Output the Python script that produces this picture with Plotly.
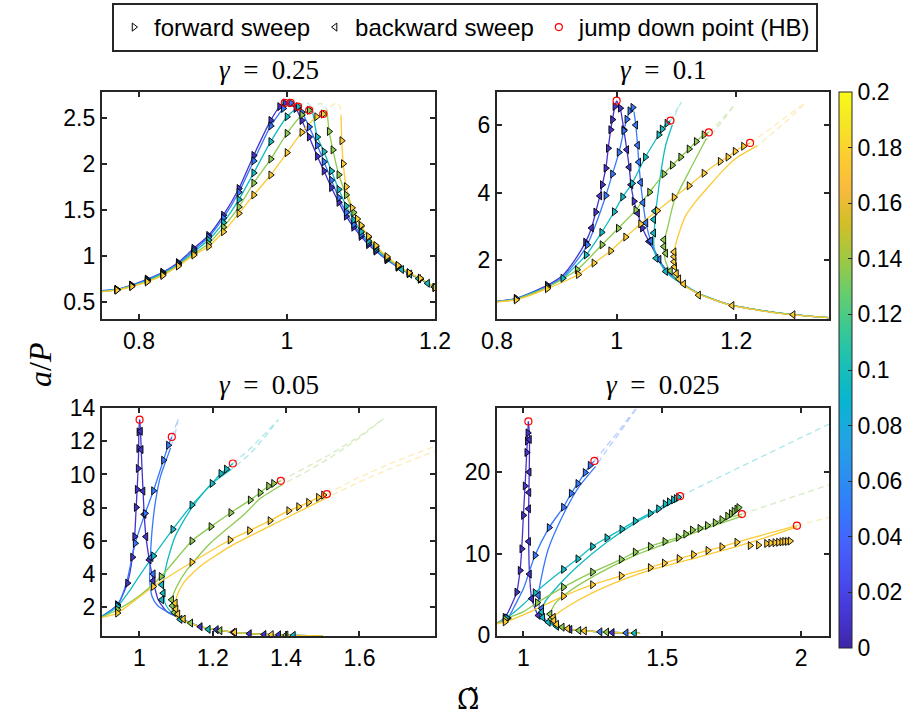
import plotly.graph_objects as go
from plotly.colors import sample_colorscale

# ---------------- colour map (parula) ----------------
PARULA = [
    [0.000, "rgb(62,38,168)"], [0.0635, "rgb(69,55,213)"], [0.127, "rgb(72,77,240)"],
    [0.190, "rgb(69,99,253)"], [0.254, "rgb(50,124,252)"], [0.317, "rgb(43,145,239)"],
    [0.381, "rgb(32,165,227)"], [0.444, "rgb(8,181,208)"], [0.508, "rgb(25,191,182)"],
    [0.571, "rgb(55,200,151)"], [0.635, "rgb(100,205,111)"], [0.698, "rgb(157,201,67)"],
    [0.762, "rgb(209,191,39)"], [0.825, "rgb(248,186,61)"], [0.889, "rgb(252,207,48)"],
    [0.952, "rgb(245,233,36)"], [1.000, "rgb(249,251,21)"],
]
CURVE_VALUES = [0.01, 0.048, 0.096, 0.136, 0.175]
CBAR_TICKS = [0, 0.02, 0.04, 0.06, 0.08, 0.1, 0.12, 0.14, 0.16, 0.18, 0.2]
CBAR_LABELS = ["0", "0.02", "0.04", "0.06", "0.08", "0.1", "0.12", "0.14", "0.16", "0.18", "0.2"]

TITLES = ["<i>γ</i>  =  0.25", "<i>γ</i>  =  0.1", "<i>γ</i>  =  0.05", "<i>γ</i>  =  0.025"]
LEGEND_NAMES = ["forward sweep", "backward sweep", "jump down point (HB)"]
Y_LABEL = "<i>a</i>/<i>P</i>"
X_LABEL = "Ω\u0303"

P1_XTICKS = [0.8, 1, 1.2]; P1_XLABELS = ["0.8", "1", "1.2"]
P1_YTICKS = [0.5, 1, 1.5, 2, 2.5]; P1_YLABELS = ["0.5", "1", "1.5", "2", "2.5"]
P2_XTICKS = [0.8, 1, 1.2]; P2_XLABELS = ["0.8", "1", "1.2"]
P2_YTICKS = [2, 4, 6]; P2_YLABELS = ["2", "4", "6"]
P3_XTICKS = [1, 1.2, 1.4, 1.6]; P3_XLABELS = ["1", "1.2", "1.4", "1.6"]
P3_YTICKS = [2, 4, 6, 8, 10, 12, 14]; P3_YLABELS = ["2", "4", "6", "8", "10", "12", "14"]
P4_XTICKS = [1, 1.5, 2]; P4_XLABELS = ["1", "1.5", "2"]
P4_YTICKS = [0, 10, 20]; P4_YLABELS = ["0", "10", "20"]

# ---------------- panel 1 : gamma = 0.25 ----------------
P1_UP_X = [
    [0.75, 0.77, 0.79, 0.811, 0.832, 0.853, 0.874, 0.894, 0.914, 0.935, 0.955, 0.978, 0.99, 0.997],
    [0.75, 0.77, 0.79, 0.811, 0.832, 0.853, 0.874, 0.894, 0.914, 0.935, 0.955, 0.978, 0.995, 1.005],
    [0.75, 0.77, 0.79, 0.811, 0.832, 0.853, 0.874, 0.894, 0.914, 0.935, 0.955, 0.978, 1.0, 1.015],
    [0.75, 0.77, 0.79, 0.811, 0.832, 0.853, 0.874, 0.894, 0.914, 0.935, 0.955, 0.978, 1.0, 1.02, 1.03],
    [0.75, 0.77, 0.79, 0.811, 0.832, 0.853, 0.874, 0.894, 0.914, 0.935, 0.955, 0.978, 1.0, 1.02, 1.04, 1.049]]
P1_UP_Y = [
    [0.62, 0.634, 0.68, 0.745, 0.82, 0.925, 1.08, 1.22, 1.44, 1.73, 2.09, 2.47, 2.62, 2.66],
    [0.62, 0.633, 0.678, 0.74, 0.815, 0.915, 1.06, 1.2, 1.41, 1.69, 2.03, 2.41, 2.6, 2.66],
    [0.615, 0.63, 0.672, 0.73, 0.805, 0.905, 1.04, 1.17, 1.36, 1.61, 1.9, 2.24, 2.51, 2.62],
    [0.61, 0.628, 0.668, 0.722, 0.795, 0.895, 1.02, 1.13, 1.31, 1.53, 1.79, 2.05, 2.33, 2.53, 2.58],
    [0.61, 0.625, 0.665, 0.715, 0.785, 0.888, 1.007, 1.1, 1.26, 1.46, 1.66, 1.877, 2.12, 2.34, 2.51, 2.54]]
P1_DASH_X = [[0.997, 1.0, 1.004], [1.005, 1.009, 1.013], [1.015, 1.022, 1.029, 1.034],
             [1.03, 1.038, 1.045, 1.051, 1.054], [1.049, 1.056, 1.063, 1.068, 1.072, 1.073]]
P1_DASH_Y = [[2.66, 2.665, 2.65], [2.66, 2.665, 2.64], [2.62, 2.655, 2.655, 2.6],
             [2.58, 2.63, 2.655, 2.64, 2.58], [2.54, 2.6, 2.645, 2.66, 2.62, 2.52]]
P1_LOW_X = [
    [1.004, 1.012, 1.02, 1.03, 1.041, 1.05, 1.06, 1.07, 1.08, 1.09, 1.1, 1.11, 1.12, 1.135, 1.15, 1.165, 1.18, 1.2],
    [1.013, 1.02, 1.03, 1.041, 1.05, 1.06, 1.07, 1.08, 1.09, 1.1, 1.11, 1.12, 1.135, 1.15, 1.165, 1.18, 1.2],
    [1.034, 1.041, 1.05, 1.06, 1.07, 1.08, 1.09, 1.1, 1.11, 1.12, 1.135, 1.15, 1.165, 1.18, 1.2],
    [1.054, 1.057, 1.062, 1.07, 1.08, 1.09, 1.1, 1.11, 1.12, 1.135, 1.15, 1.165, 1.18, 1.2],
    [1.073, 1.074, 1.076, 1.08, 1.088, 1.095, 1.1, 1.11, 1.12, 1.135, 1.15, 1.165, 1.18, 1.2]]
P1_LOW_Y = [
    [2.65, 2.6, 2.47, 2.29, 2.08, 1.92, 1.74, 1.58, 1.43, 1.31, 1.21, 1.12, 1.05, 0.955, 0.875, 0.805, 0.745, 0.655],
    [2.64, 2.56, 2.4, 2.2, 2.02, 1.82, 1.63, 1.47, 1.34, 1.23, 1.14, 1.06, 0.96, 0.88, 0.808, 0.748, 0.655],
    [2.6, 2.29, 2.13, 1.92, 1.72, 1.54, 1.39, 1.26, 1.16, 1.08, 0.97, 0.885, 0.81, 0.75, 0.655],
    [2.58, 2.35, 2.15, 1.88, 1.66, 1.47, 1.32, 1.2, 1.1, 0.98, 0.89, 0.812, 0.752, 0.655],
    [2.52, 2.25, 2.0, 1.75, 1.52, 1.4, 1.33, 1.21, 1.11, 0.99, 0.895, 0.815, 0.755, 0.655]]
P1_FWD_X = [u[1:] + l[1:] for u, l in zip(P1_UP_X, P1_LOW_X)]
P1_FWD_Y = [u[1:] + l[1:] for u, l in zip(P1_UP_Y, P1_LOW_Y)]
P1_BWD_X = [[], [], [1.155, 1.166, 1.178, 1.19, 1.199], [], []]
P1_BWD_Y = [[], [], [0.85, 0.8, 0.75, 0.7, 0.66], [], []]
P1_HB_X = [0.997, 1.005, 1.015, 1.03, 1.049]
P1_HB_Y = [2.66, 2.66, 2.62, 2.58, 2.54]

# ---------------- panel 2 : gamma = 0.1 ----------------
P2_UP_X = [
    [0.8, 0.832, 0.884, 0.91, 0.93, 0.948, 0.958, 0.965, 0.972, 0.976, 0.982, 0.986, 0.99, 0.993, 0.997, 1.0],
    [0.8, 0.832, 0.884, 0.91, 0.93, 0.951, 0.965, 0.982, 0.993, 1.004, 1.012, 1.017, 1.022, 1.027],
    [0.8, 0.832, 0.884, 0.91, 0.949, 0.975, 0.996, 1.01, 1.026, 1.048, 1.0705, 1.076, 1.084, 1.09],
    [0.8, 0.832, 0.884, 0.934, 0.9755, 1.0027, 1.032, 1.055, 1.079, 1.093, 1.107, 1.121, 1.133, 1.146, 1.154],
    [0.8, 0.832, 0.884, 0.936, 0.962, 0.99, 1.015, 1.04, 1.068, 1.096, 1.121, 1.146, 1.173, 1.186, 1.198, 1.212, 1.223]]
P2_UP_Y = [
    [0.77, 0.86, 1.25, 1.55, 2.0, 2.53, 2.95, 3.42, 3.9, 4.23, 4.72, 5.31, 5.86, 6.16, 6.55, 6.72],
    [0.77, 0.855, 1.22, 1.5, 1.9, 2.45, 3.05, 3.91, 4.55, 5.19, 5.83, 6.17, 6.42, 6.52],
    [0.77, 0.845, 1.2, 1.46, 2.15, 2.82, 3.43, 3.87, 4.27, 5.05, 5.71, 5.88, 6.05, 6.13],
    [0.765, 0.835, 1.19, 1.71, 2.45, 2.94, 3.48, 4.01, 4.55, 4.81, 5.05, 5.29, 5.51, 5.71, 5.78],
    [0.76, 0.82, 1.15, 1.57, 1.91, 2.27, 2.68, 3.07, 3.46, 3.86, 4.2, 4.57, 4.92, 5.05, 5.22, 5.37, 5.47]]
P2_DASH_X = [[1.0], [1.027, 1.029], [1.09, 1.1, 1.108, 1.1, 1.093],
             [1.154, 1.17, 1.185, 1.197, 1.185, 1.165, 1.15],
             [1.223, 1.25, 1.28, 1.315, 1.29, 1.26, 1.235]]
P2_DASH_Y = [[6.72], [6.52, 6.5], [6.13, 6.42, 6.68, 6.4, 6.0],
             [5.78, 6.05, 6.35, 6.6, 6.3, 5.85, 5.55],
             [5.47, 5.8, 6.2, 6.65, 6.2, 5.75, 5.38]]
P2_LOW_X = [
    [1.0, 1.006, 1.012, 1.017, 1.021, 1.024, 1.029, 1.035, 1.043, 1.054, 1.065, 1.076, 1.09, 1.11, 1.14, 1.19, 1.24, 1.29, 1.355],
    [1.029, 1.032, 1.035, 1.037, 1.04, 1.044, 1.049, 1.057, 1.071, 1.082, 1.1, 1.14, 1.19, 1.24, 1.29, 1.355],
    [1.093, 1.082, 1.071, 1.064, 1.062, 1.064, 1.071, 1.082, 1.1, 1.14, 1.19, 1.24, 1.29, 1.355],
    [1.15, 1.121, 1.096, 1.085, 1.08, 1.079, 1.082, 1.09, 1.1, 1.115, 1.14, 1.19, 1.24, 1.29, 1.355],
    [1.235, 1.2, 1.176, 1.155, 1.132, 1.115, 1.107, 1.1, 1.096, 1.096, 1.1, 1.104, 1.115, 1.14, 1.19, 1.24, 1.29, 1.355]]
P2_LOW_Y = [
    [6.72, 6.5, 5.86, 5.27, 4.75, 4.23, 3.74, 3.39, 2.95, 2.55, 2.2, 1.86, 1.58, 1.3, 0.98, 0.67, 0.51, 0.39, 0.29],
    [6.4, 6.0, 5.4, 4.9, 4.3, 3.7, 3.1, 2.57, 2.02, 1.68, 1.4, 0.98, 0.67, 0.51, 0.39, 0.29],
    [6.0, 5.4, 4.23, 3.14, 2.5, 2.2, 1.96, 1.66, 1.4, 0.98, 0.67, 0.51, 0.39, 0.29],
    [5.6, 4.62, 3.73, 2.94, 2.6, 2.3, 1.95, 1.65, 1.45, 1.22, 0.98, 0.67, 0.51, 0.39, 0.29],
    [5.38, 5.02, 4.62, 4.2, 3.73, 3.3, 2.94, 2.55, 2.24, 2.0, 1.7, 1.44, 1.22, 0.97, 0.66, 0.5, 0.38, 0.29]]
P2_FWD_X = [
    [0.832, 0.884, 0.948, 0.965, 0.976, 0.982, 0.986, 0.99, 0.993, 0.997, 1.006, 1.012, 1.029, 1.043],
    [0.832, 0.884, 0.951, 0.982, 0.993, 1.004, 1.012, 1.017, 1.022, 1.027],
    [0.91, 0.949, 0.975, 0.996, 1.01, 1.026, 1.048, 1.0705, 1.076, 1.084],
    [0.884, 0.934, 0.9755, 1.0027, 1.032, 1.055, 1.079, 1.093, 1.107, 1.121, 1.133, 1.146],
    [0.832, 0.884, 0.936, 0.962, 0.99, 1.015, 1.04, 1.068, 1.096, 1.121, 1.146, 1.173, 1.186, 1.198, 1.212]]
P2_FWD_Y = [
    [0.86, 1.25, 2.53, 3.42, 4.23, 4.72, 5.31, 5.86, 6.16, 6.55, 6.5, 5.86, 3.74, 2.95],
    [0.855, 1.22, 2.45, 3.91, 4.55, 5.19, 5.83, 6.17, 6.42, 6.52],
    [1.46, 2.15, 2.82, 3.43, 3.87, 4.27, 5.05, 5.71, 5.88, 6.05],
    [1.19, 1.71, 2.45, 2.94, 3.48, 4.01, 4.55, 4.81, 5.05, 5.29, 5.51, 5.71],
    [0.82, 1.15, 1.57, 1.91, 2.27, 2.68, 3.07, 3.46, 3.86, 4.2, 4.57, 4.92, 5.05, 5.22, 5.37]]
P2_BWD_X = [
    [1.017, 1.021, 1.024, 1.035, 1.054, 0.972, 0.958],
    [1.032, 1.035, 1.037, 1.04, 1.044, 1.049, 1.057, 1.071],
    [1.082, 1.066, 1.062, 1.062, 1.064],
    [1.09, 1.082, 1.079, 1.079],
    [1.295, 1.193, 1.137, 1.112, 1.104, 1.1, 1.097, 1.096, 1.096, 1.096]]
P2_BWD_Y = [
    [5.27, 4.75, 4.23, 3.39, 2.55, 3.9, 2.95],
    [6.0, 5.4, 4.9, 4.3, 3.7, 3.1, 2.57, 2.02],
    [1.66, 2.05, 2.8, 3.2, 3.45],
    [1.68, 2.2, 2.4, 2.6],
    [0.38, 0.65, 0.96, 1.29, 1.44, 1.6, 1.8, 1.95, 2.1, 2.24]]
P2_HB_X = [1.0, 1.09, 1.154, 1.223]
P2_HB_Y = [6.72, 6.13, 5.78, 5.47]

# ---------------- panel 3 : gamma = 0.05 ----------------
P3_UP_X = [
    [0.898, 0.9402, 0.9675, 0.9811, 0.987, 0.9912, 0.9938, 0.9965, 0.998, 0.9985, 1.0005],
    [0.898, 0.9402, 0.965, 0.9883, 1.0155, 1.0383, 1.0655, 1.079, 1.0883],
    [0.898, 0.9402, 0.97, 1.0, 1.0383, 1.091, 1.143, 1.198, 1.222, 1.237, 1.2547],
    [0.898, 0.9402, 1.0, 1.059, 1.143, 1.195, 1.249, 1.302, 1.329, 1.352, 1.3656, 1.3856],
    [0.898, 0.9402, 1.038, 1.143, 1.247, 1.3, 1.356, 1.407, 1.434, 1.461, 1.488, 1.502, 1.511]]
P3_UP_Y = [
    [1.46, 2.16, 3.46, 5.02, 6.26, 8.02, 9.1, 10.36, 11.56, 12.56, 13.3],
    [1.45, 2.13, 3.5, 5.86, 7.66, 9.02, 10.86, 11.76, 12.26],
    [1.43, 2.06, 2.9, 3.9, 5.1, 6.7, 8.16, 9.46, 10.06, 10.32, 10.66],
    [1.42, 1.86, 2.7, 3.86, 6.0, 6.86, 7.7, 8.46, 8.9, 9.3, 9.46, 9.62],
    [1.4, 1.66, 3.26, 4.72, 6.06, 6.62, 7.22, 7.82, 8.06, 8.32, 8.62, 8.76, 8.82]]
P3_DASH_X = [
    [1.0005],
    [1.0883, 1.097, 1.106, 1.098, 1.085],
    [1.2547, 1.3, 1.34, 1.379, 1.34, 1.3, 1.25],
    [1.3856, 1.45, 1.52, 1.6, 1.6654, 1.6, 1.52, 1.45, 1.39],
    [1.511, 1.6, 1.7, 1.8, 1.9, 1.8, 1.7, 1.6, 1.52]]
P3_DASH_Y = [
    [13.3],
    [12.26, 12.85, 13.36, 12.5, 11.6],
    [10.66, 11.5, 12.4, 13.3, 12.2, 11.2, 10.3],
    [9.62, 10.4, 11.2, 12.3, 13.36, 12.2, 11.0, 10.1, 9.4],
    [8.82, 9.85, 10.8, 11.66, 12.5, 11.35, 10.5, 9.55, 8.7]]
P3_LOW_X = [
    [1.0005, 1.003, 1.005, 1.007, 1.01, 1.013, 1.0178, 1.027, 1.0376, 1.0512, 1.074, 1.1, 1.166, 1.238, 1.302, 1.356, 1.42, 1.5],
    [1.085, 1.0752, 1.0571, 1.043, 1.0346, 1.03, 1.028, 1.0346, 1.05, 1.074, 1.1, 1.166, 1.238, 1.302, 1.356, 1.42, 1.5],
    [1.25, 1.193, 1.1385, 1.0974, 1.0747, 1.0656, 1.07, 1.085, 1.1, 1.166, 1.238, 1.302, 1.356, 1.42, 1.5],
    [1.39, 1.329, 1.284, 1.193, 1.1295, 1.102, 1.0883, 1.09, 1.1, 1.166, 1.238, 1.302, 1.356, 1.42, 1.5],
    [1.52, 1.3835, 1.247, 1.165, 1.12, 1.102, 1.098, 1.1, 1.166, 1.238, 1.302, 1.356, 1.42, 1.5]]
P3_LOW_Y = [
    [13.3, 12.6, 11.5, 10.4, 9.0, 7.6, 6.26, 4.86, 3.6, 2.46, 1.76, 1.46, 0.84, 0.56, 0.42, 0.36, 0.32, 0.29],
    [11.6, 11.0, 9.86, 8.26, 6.66, 5.06, 3.66, 2.66, 2.1, 1.76, 1.46, 0.84, 0.56, 0.42, 0.36, 0.32, 0.29],
    [10.3, 9.36, 7.86, 6.26, 4.66, 3.36, 2.26, 1.75, 1.46, 0.84, 0.56, 0.42, 0.36, 0.32, 0.29],
    [9.4, 8.55, 7.56, 5.86, 4.26, 3.26, 2.46, 1.8, 1.46, 0.84, 0.56, 0.42, 0.36, 0.32, 0.29],
    [8.7, 7.2, 5.66, 4.46, 3.46, 2.66, 2.26, 1.46, 0.84, 0.56, 0.42, 0.36, 0.32, 0.29]]
P3_FWD_X = [
    [0.9402, 0.9675, 0.9811, 0.987, 0.9912, 0.9938, 0.9965, 0.998, 0.9985],
    [0.9402, 0.9883, 1.0155, 1.0383, 1.0655, 1.079],
    [0.9402, 1.0383, 1.091, 1.143, 1.198, 1.222, 1.237],
    [0.9402, 1.059, 1.143, 1.195, 1.249, 1.302, 1.329, 1.352, 1.3656],
    [0.9402, 1.038, 1.143, 1.247, 1.3, 1.356, 1.407, 1.434, 1.461, 1.488, 1.502]]
P3_FWD_Y = [
    [2.16, 3.46, 5.02, 6.26, 8.02, 9.1, 10.36, 11.56, 12.56],
    [2.13, 5.86, 7.66, 9.02, 10.86, 11.76],
    [2.06, 5.1, 6.7, 8.16, 9.46, 10.06, 10.32],
    [1.86, 3.86, 6.0, 6.86, 7.7, 8.46, 8.9, 9.3, 9.46],
    [1.66, 3.26, 4.72, 6.06, 6.62, 7.22, 7.82, 8.06, 8.32, 8.62, 8.76]]
P3_BWD_X = [
    [1.003, 1.005, 1.01, 1.013, 1.0178, 1.027, 1.0376, 1.166, 1.21, 1.256, 1.3, 1.34, 1.38],
    [1.038, 1.032],
    [1.061, 1.065, 1.061, 1.111, 1.188, 1.42],
    [1.088, 1.09, 1.095, 1.14, 1.22, 1.4],
    [1.098, 1.1, 1.105, 1.12, 1.26, 1.36]]
P3_BWD_Y = [
    [12.6, 11.5, 9.0, 7.6, 6.26, 4.86, 3.6, 0.84, 0.66, 0.5, 0.42, 0.37, 0.35],
    [4.02, 5.0],
    [3.36, 2.86, 2.46, 1.28, 0.68, 0.32],
    [2.46, 2.1, 1.7, 1.06, 0.6, 0.34],
    [2.26, 1.9, 1.6, 1.3, 0.5, 0.36]]
P3_HB_X = [1.0005, 1.0883, 1.2547, 1.3856, 1.511]
P3_HB_Y = [13.3, 12.26, 10.66, 9.62, 8.82]

# ---------------- panel 4 : gamma = 0.025 ----------------
P4_UP_X = [
    [0.905, 0.934, 0.976, 0.988, 0.994, 1.0, 1.006, 1.012, 1.016, 1.018],
    [0.905, 0.944, 0.97, 1.0, 1.042, 1.0925, 1.144, 1.172, 1.1958, 1.222, 1.24, 1.2557],
    [0.905, 0.94, 1.0, 1.042, 1.144, 1.1958, 1.2486, 1.3002, 1.3542, 1.4022, 1.4564, 1.4862, 1.51, 1.564],
    [0.905, 0.934, 1.0, 1.05, 1.144, 1.2486, 1.3518, 1.4022, 1.4564, 1.509, 1.557, 1.584, 1.608, 1.635, 1.662, 1.69, 1.714, 1.75, 1.7865],
    [0.905, 0.934, 1.0, 1.144, 1.2486, 1.3518, 1.4564, 1.507, 1.56, 1.612, 1.664, 1.714, 1.768, 1.85, 1.9845]]
P4_UP_Y = [
    [1.5, 2.2, 5.3, 7.95, 10.6, 14.7, 18.3, 22.4, 24.8, 26.2],
    [1.48, 2.1, 3.7, 5.7, 9.8, 13.2, 15.7, 17.4, 18.6, 19.94, 20.83, 21.37],
    [1.46, 2.13, 3.8, 5.22, 8.07, 9.37, 10.88, 11.95, 13.0, 14.0, 14.95, 15.5, 16.1, 17.05],
    [1.44, 1.98, 2.9, 4.0, 5.9, 7.75, 9.3, 10.2, 10.9, 11.5, 12.0, 12.4, 12.9, 13.1, 13.45, 13.8, 14.17, 14.5, 14.85],
    [1.42, 1.65, 2.5, 4.8, 6.2, 7.3, 8.3, 8.85, 9.4, 9.9, 10.4, 10.85, 11.4, 12.2, 13.44]]
P4_DASH_X = [
    [1.018],
    [1.2557, 1.3, 1.34, 1.378, 1.42, 1.35, 1.3, 1.26],
    [1.564, 1.7, 1.85, 2.0, 2.15],
    [1.7865, 1.9, 2.0, 2.15],
    [1.9845, 2.05, 2.15]]
P4_DASH_Y = [
    [26.2],
    [21.37, 23.2, 24.9, 26.6, 28.4, 25.0, 22.7, 20.7],
    [17.05, 19.3, 21.8, 24.3, 26.7],
    [14.85, 16.2, 17.3, 19.0],
    [13.44, 14.0, 14.9]]
P4_LOW_X = [
    [1.018, 1.022, 1.021, 1.019, 1.019, 1.022, 1.03, 1.054, 1.102, 1.162, 1.22, 1.28, 1.35, 1.42],
    [1.26, 1.198, 1.138, 1.09, 1.066, 1.054, 1.06, 1.08, 1.102, 1.162, 1.22, 1.28, 1.35, 1.42],
    [1.564, 1.52, 1.402, 1.3, 1.198, 1.126, 1.078, 1.066, 1.07, 1.09, 1.102, 1.162, 1.22, 1.28, 1.35, 1.42],
    [1.7865, 1.65, 1.55, 1.4022, 1.258, 1.162, 1.114, 1.096, 1.1, 1.12, 1.162, 1.22, 1.28, 1.35, 1.42],
    [1.9845, 1.8, 1.6, 1.4564, 1.356, 1.248, 1.162, 1.12, 1.108, 1.11, 1.13, 1.162, 1.22, 1.28, 1.35, 1.42]]
P4_LOW_Y = [
    [26.2, 24.5, 20.0, 15.5, 11.5, 7.5, 4.5, 2.44, 1.3, 0.75, 0.55, 0.42, 0.32, 0.25],
    [20.7, 18.1, 14.4, 10.6, 7.3, 4.9, 3.1, 1.9, 1.3, 0.75, 0.55, 0.42, 0.32, 0.25],
    [16.8, 15.95, 13.75, 11.4, 8.55, 6.1, 4.1, 2.85, 2.0, 1.5, 1.3, 0.75, 0.55, 0.42, 0.32, 0.25],
    [14.6, 13.0, 11.7, 9.8, 7.34, 5.3, 3.88, 2.6, 1.9, 1.4, 0.75, 0.55, 0.42, 0.32, 0.25],
    [13.3, 11.2, 9.3, 8.0, 6.8, 5.2, 3.6, 2.6, 2.2, 1.7, 1.2, 0.75, 0.55, 0.42, 0.32, 0.25]]
P4_FWD_X = [
    [0.934, 0.976, 0.988, 0.994, 1.0, 1.006, 1.012, 1.014, 1.016],
    [0.944, 1.042, 1.0925, 1.144, 1.172, 1.1958, 1.222, 1.24],
    [0.94, 1.042, 1.144, 1.1958, 1.2486, 1.3002, 1.3542, 1.4022, 1.4564, 1.4862, 1.51, 1.525, 1.54, 1.55, 1.558],
    [0.934, 1.05, 1.144, 1.2486, 1.3518, 1.4022, 1.4564, 1.509, 1.557, 1.584, 1.608, 1.635, 1.662, 1.69, 1.714, 1.735, 1.748, 1.758, 1.768, 1.775],
    [0.934, 1.144, 1.2486, 1.3518, 1.4564, 1.507, 1.56, 1.612, 1.664, 1.714, 1.768, 1.816, 1.846, 1.875, 1.89, 1.905, 1.918, 1.93, 1.94, 1.95, 1.96]]
P4_FWD_Y = [
    [2.2, 5.3, 7.95, 10.6, 14.7, 18.3, 22.4, 23.8, 24.8],
    [2.1, 9.8, 13.2, 15.7, 17.4, 18.6, 19.94, 20.83],
    [2.13, 5.22, 8.07, 9.37, 10.88, 11.95, 13.0, 14.0, 14.95, 15.5, 16.1, 16.35, 16.6, 16.75, 16.9],
    [1.98, 4.0, 5.9, 7.75, 9.3, 10.2, 10.9, 11.5, 12.0, 12.4, 12.9, 13.1, 13.45, 13.8, 14.17, 14.6, 14.9, 15.2, 15.45, 15.65],
    [1.65, 4.8, 6.2, 7.3, 8.3, 8.85, 9.4, 9.9, 10.4, 10.85, 11.4, 11.0, 11.05, 11.25, 11.3, 11.35, 11.4, 11.45, 11.5, 11.5, 11.55]]
P4_BWD_X = [
    [1.022, 1.021, 1.02, 1.019, 1.019, 1.022, 1.03, 1.054, 1.168, 1.32],
    [1.054, 1.066, 1.276, 1.37],
    [1.066, 1.07, 1.09, 1.12, 1.4],
    [1.096, 1.1, 1.11, 1.14, 1.2, 1.3],
    [1.108, 1.11, 1.12, 1.16, 1.22]]
P4_BWD_Y = [
    [24.0, 20.0, 17.5, 15.5, 11.5, 7.5, 4.5, 2.44, 0.72, 0.35],
    [4.9, 3.3, 0.43, 0.3],
    [2.85, 2.2, 1.6, 1.1, 0.27],
    [2.6, 2.0, 1.6, 1.0, 0.6, 0.4],
    [2.2, 1.8, 1.35, 0.82, 0.55]]
P4_HB_X = [1.018, 1.2557, 1.564, 1.7865, 1.9845]
P4_HB_Y = [26.2, 21.37, 17.05, 14.85, 13.44]

# ---------------- build figure ----------------
W, H = 912, 720
COLORS = sample_colorscale(PARULA, [v / 0.2 for v in CURVE_VALUES])
AXIS_LINE = "#262626"
SANS = "Liberation Sans, Arial, sans-serif"
TICK_FONT = dict(family=SANS, size=23, color="black")
SERIF = "Liberation Serif, Times New Roman, serif"

fig = go.Figure()

panels = [
    (P1_UP_X, P1_UP_Y, P1_DASH_X, P1_DASH_Y, P1_LOW_X, P1_LOW_Y, P1_FWD_X, P1_FWD_Y, P1_BWD_X, P1_BWD_Y, P1_HB_X, P1_HB_Y),
    (P2_UP_X, P2_UP_Y, P2_DASH_X, P2_DASH_Y, P2_LOW_X, P2_LOW_Y, P2_FWD_X, P2_FWD_Y, P2_BWD_X, P2_BWD_Y, P2_HB_X, P2_HB_Y),
    (P3_UP_X, P3_UP_Y, P3_DASH_X, P3_DASH_Y, P3_LOW_X, P3_LOW_Y, P3_FWD_X, P3_FWD_Y, P3_BWD_X, P3_BWD_Y, P3_HB_X, P3_HB_Y),
    (P4_UP_X, P4_UP_Y, P4_DASH_X, P4_DASH_Y, P4_LOW_X, P4_LOW_Y, P4_FWD_X, P4_FWD_Y, P4_BWD_X, P4_BWD_Y, P4_HB_X, P4_HB_Y),
]

for k, (ux, uy, dx, dy, lx, ly, fx, fy, bx, by, hx, hy) in enumerate(panels, start=1):
    xa = "x" if k == 1 else f"x{k}"
    ya = "y" if k == 1 else f"y{k}"
    for i, col in enumerate(COLORS):
        common = dict(xaxis=xa, yaxis=ya, mode="lines", showlegend=False, hoverinfo="skip")
        if len(dx[i]) > 1:
            fig.add_trace(go.Scatter(x=dx[i], y=dy[i], opacity=0.35,
                                     line=dict(color=col, width=1.3, dash="6px,4px"), **common))
        fig.add_trace(go.Scatter(x=ux[i], y=uy[i], line=dict(color=col, width=1.3, shape="spline", smoothing=0.6), **common))
        fig.add_trace(go.Scatter(x=lx[i], y=ly[i], line=dict(color=col, width=1.3, shape="spline", smoothing=0.6), **common))
    for i, col in enumerate(COLORS):
        mk = dict(size=7, color=col, line=dict(color="black", width=0.9))
        fig.add_trace(go.Scatter(x=fx[i], y=fy[i], xaxis=xa, yaxis=ya, mode="markers", showlegend=False,
                                 marker=dict(symbol="triangle-right", **mk)))
        if bx[i]:
            fig.add_trace(go.Scatter(x=bx[i], y=by[i], xaxis=xa, yaxis=ya, mode="markers", showlegend=False,
                                     marker=dict(symbol="triangle-left", **mk)))
    fig.add_trace(go.Scatter(x=hx, y=hy, xaxis=xa, yaxis=ya, mode="markers", showlegend=False,
                             marker=dict(symbol="circle-open", size=7, color="red", line=dict(width=1.2))))

# legend entries
fig.add_trace(go.Scatter(x=[None], y=[None], mode="markers", name=LEGEND_NAMES[0],
                         marker=dict(symbol="triangle-right", size=7, color="white", line=dict(color="black", width=1))))
fig.add_trace(go.Scatter(x=[None], y=[None], mode="markers", name=LEGEND_NAMES[1],
                         marker=dict(symbol="triangle-left", size=7, color="white", line=dict(color="black", width=1))))
fig.add_trace(go.Scatter(x=[None], y=[None], mode="markers", name=LEGEND_NAMES[2],
                         marker=dict(symbol="circle-open", size=7, color="red", line=dict(width=1.2))))

# colorbar
fig.add_trace(go.Scatter(
    x=[None], y=[None], mode="markers", showlegend=False,
    marker=dict(color=[0], colorscale=PARULA, cmin=0, cmax=0.2, showscale=True,
                colorbar=dict(x=839 / W, xanchor="left", y=1 - 648 / H, yanchor="bottom",
                              len=(648 - 92) / H, lenmode="fraction", thickness=13,
                              xpad=0, ypad=0, outlinewidth=1, outlinecolor=AXIS_LINE,
                              tickvals=CBAR_TICKS, ticktext=CBAR_LABELS, ticks="inside",
                              ticklen=4, tickcolor=AXIS_LINE, tickfont=TICK_FONT))))


def xdom(a, b):
    return [a / W, b / W]


def ydom(top, bottom):
    return [1 - bottom / H, 1 - top / H]


axis_common = dict(showgrid=False, zeroline=False, showline=True, linecolor=AXIS_LINE, linewidth=2.2,
                   mirror="ticks", ticks="inside", ticklen=5, tickwidth=2, tickcolor=AXIS_LINE,
                   tickfont=TICK_FONT)

specs = [
    (1, xdom(102, 435), ydom(92, 319), [0.75, 1.2], [0.312, 2.779], P1_XTICKS, P1_XLABELS, P1_YTICKS, P1_YLABELS),
    (2, xdom(497, 829), ydom(92, 319), [0.8, 1.355], [0.252, 6.978], P2_XTICKS, P2_XLABELS, P2_YTICKS, P2_YLABELS),
    (3, xdom(102, 435), ydom(408, 636), [0.898, 1.806], [0.28, 14.0], P3_XTICKS, P3_XLABELS, P3_YTICKS, P3_YLABELS),
    (4, xdom(497, 829), ydom(408, 636), [0.905, 2.1], [-0.08, 27.85], P4_XTICKS, P4_XLABELS, P4_YTICKS, P4_YLABELS),
]
layout_axes = {}
for k, xd, yd, xr, yr, xt, xl, yt, yl in specs:
    xname = "xaxis" if k == 1 else f"xaxis{k}"
    yname = "yaxis" if k == 1 else f"yaxis{k}"
    anchor_x = "x" if k == 1 else f"x{k}"
    anchor_y = "y" if k == 1 else f"y{k}"
    layout_axes[xname] = dict(domain=xd, range=xr, anchor=anchor_y, tickvals=xt, ticktext=xl, **axis_common)
    layout_axes[yname] = dict(domain=yd, range=yr, anchor=anchor_x, tickvals=yt, ticktext=yl, **axis_common)

annotations = []
title_pos = [(268.5, 70), (663, 70), (268.5, 385), (663, 385)]
for (tx, ty), t in zip(title_pos, TITLES):
    annotations.append(dict(x=tx / W, y=1 - ty / H, xref="paper", yref="paper", text=t, showarrow=False,
                            xanchor="center", yanchor="middle",
                            font=dict(family=SERIF, size=27, color="black")))
annotations.append(dict(x=40 / W, y=1 - 365 / H, xref="paper", yref="paper", text=Y_LABEL,
                        showarrow=False, textangle=-90, xanchor="center", yanchor="middle",
                        font=dict(family=SERIF, size=32, color="black")))
annotations.append(dict(x=468 / W, y=1 - 699 / H, xref="paper", yref="paper", text=X_LABEL,
                        showarrow=False, xanchor="center", yanchor="middle",
                        font=dict(family="DejaVu Serif, serif", size=27, color="black")))

fig.update_layout(
    width=W, height=H, margin=dict(l=0, r=0, t=0, b=0, autoexpand=False),
    paper_bgcolor="white", plot_bgcolor="white",
    annotations=annotations,
    legend=dict(orientation="h", x=465 / W, xanchor="center", y=1 - 3 / H, yanchor="top",
                bgcolor="white", bordercolor=AXIS_LINE, borderwidth=2, itemwidth=30,
                font=dict(family=SANS, size=24, color="black")),
    **layout_axes,
)

fig.write_html("out.html", config={"displayModeBar": False},
               post_script="document.body.style.margin='0px';document.body.style.overflow='hidden';")
